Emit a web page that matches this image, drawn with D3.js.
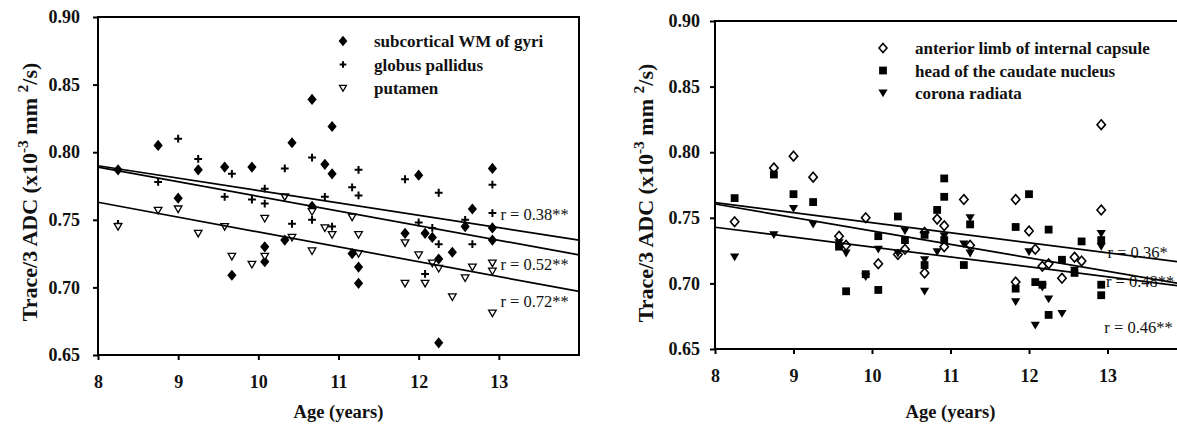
<!DOCTYPE html>
<html>
<head>
<meta charset="utf-8">
<script src="https://cdn.jsdelivr.net/npm/d3@7"></script>
<style>
  body { margin: 0; background: #fff; }
  svg { display: block; }
  text { font-family: "Liberation Serif", "Times New Roman", serif; fill: #111; }
</style>
</head>
<body>
<svg id="chart" width="1177" height="424"></svg>
<script>
// ---- axis ticks ----
const ageTicks = [8, 9, 10, 11, 12, 13];
const adcTicks = [0.65, 0.70, 0.75, 0.80, 0.85, 0.90];
const ageDomain = [8, 14];
const adcDomain = [0.65, 0.90];

// ---- left panel: [age (years), Trace/3 ADC] ----
const wmGyri = [
  [8.25,0.787],[8.75,0.805],[9.0,0.766],[9.25,0.787],[9.58,0.789],[9.67,0.709],[9.92,0.789],
  [10.08,0.730],[10.08,0.719],[10.33,0.735],[10.42,0.807],[10.67,0.839],[10.67,0.760],[10.83,0.791],
  [10.92,0.819],[10.92,0.784],[11.17,0.725],[11.25,0.715],[11.25,0.703],[11.83,0.740],[12.0,0.783],
  [12.08,0.740],[12.17,0.737],[12.25,0.721],[12.25,0.659],[12.42,0.726],[12.58,0.745],[12.67,0.758],
  [12.92,0.788],[12.92,0.744],[12.92,0.735]
];
const globusPallidus = [
  [8.25,0.747],[8.75,0.778],[9.0,0.810],[9.25,0.795],[9.58,0.767],[9.67,0.784],[9.92,0.765],
  [10.08,0.773],[10.08,0.762],[10.33,0.788],[10.42,0.747],[10.67,0.796],[10.67,0.750],[10.83,0.767],
  [10.92,0.745],[11.17,0.774],[11.25,0.787],[11.25,0.768],[11.83,0.780],[12.0,0.748],[12.08,0.710],
  [12.17,0.744],[12.25,0.770],[12.25,0.732],[12.58,0.750],[12.67,0.732],[12.92,0.776],[12.92,0.755]
];
const putamen = [
  [8.25,0.745],[8.75,0.757],[9.0,0.758],[9.25,0.740],[9.58,0.745],[9.67,0.723],[9.92,0.717],
  [10.08,0.751],[10.08,0.723],[10.33,0.767],[10.42,0.737],[10.67,0.756],[10.67,0.727],[10.83,0.744],
  [10.92,0.739],[11.17,0.752],[11.25,0.739],[11.25,0.725],[11.83,0.733],[11.83,0.703],[12.0,0.724],
  [12.08,0.703],[12.17,0.718],[12.25,0.714],[12.42,0.693],[12.58,0.707],[12.67,0.715],[12.92,0.718],
  [12.92,0.712],[12.92,0.681]
];
// regression fits: value at age 8 and at age 14
const fitsLeft = [
  { r: "r = 0.38**", at8: 0.790, at14: 0.735 },
  { r: "r = 0.52**", at8: 0.789, at14: 0.724 },
  { r: "r = 0.72**", at8: 0.763, at14: 0.697 }
];

// ---- right panel ----
const anteriorLimb = [
  [8.25,0.747],[8.75,0.788],[9.0,0.797],[9.25,0.781],[9.58,0.736],[9.67,0.729],[9.92,0.750],
  [10.08,0.715],[10.33,0.722],[10.42,0.726],[10.67,0.739],[10.67,0.708],[10.83,0.749],[10.92,0.744],
  [10.92,0.728],[11.17,0.764],[11.25,0.729],[11.83,0.764],[11.83,0.701],[12.0,0.740],[12.08,0.726],
  [12.17,0.713],[12.25,0.715],[12.42,0.704],[12.58,0.720],[12.67,0.717],[12.92,0.821],[12.92,0.756]
];
const caudateHead = [
  [8.25,0.765],[8.75,0.783],[9.0,0.768],[9.25,0.762],[9.58,0.728],[9.67,0.694],[9.92,0.707],
  [10.08,0.736],[10.08,0.695],[10.33,0.751],[10.42,0.733],[10.67,0.737],[10.67,0.714],[10.83,0.756],
  [10.92,0.780],[10.92,0.766],[10.92,0.733],[11.17,0.714],[11.25,0.745],[11.83,0.743],[11.83,0.696],
  [12.0,0.768],[12.08,0.701],[12.17,0.699],[12.25,0.741],[12.25,0.676],[12.42,0.718],[12.58,0.708],
  [12.67,0.732],[12.92,0.733],[12.92,0.699],[12.92,0.691]
];
const coronaRadiata = [
  [8.25,0.720],[8.75,0.737],[9.0,0.757],[9.25,0.745],[9.58,0.731],[9.67,0.723],[9.92,0.705],
  [10.08,0.726],[10.33,0.723],[10.42,0.740],[10.67,0.718],[10.67,0.694],[10.83,0.724],[10.92,0.736],
  [11.17,0.730],[11.25,0.750],[11.25,0.723],[11.83,0.686],[12.0,0.724],[12.08,0.668],[12.17,0.697],
  [12.25,0.688],[12.42,0.677],[12.58,0.710],[12.92,0.738],[12.92,0.728]
];
const fitsRight = [
  { r: "r = 0.36*",  at8: 0.7615, at14: 0.7157 },
  { r: "r = 0.48**", at8: 0.7605, at14: 0.6990 },
  { r: "r = 0.46**", at8: 0.7428, at14: 0.6975 }
];

const SERIF = '"Liberation Serif", "Times New Roman", serif';
const svg = d3.select("#chart");

// marker shapes centred on 0,0
function drawMarker(g, kind, s) {
  s = s || 1;
  if (kind === "diamondFilled") {
    g.append("path").attr("d", `M0,${-5.6*s}L${4.6*s},0L0,${5.6*s}L${-4.6*s},0Z`).attr("fill", "#000");
  } else if (kind === "plus") {
    const w = 3.9 * s;
    g.append("path").attr("d", `M${-w},0H${w}M0,${-w}V${w}`).attr("stroke", "#000").attr("stroke-width", 2).attr("fill", "none");
  } else if (kind === "triOpen") {
    g.append("path").attr("d", `M${-3.8*s},${-3*s}L${3.8*s},${-3*s}L0,${3.6*s}Z`)
      .attr("fill", "#fff").attr("stroke", "#000").attr("stroke-width", 1.3);
  } else if (kind === "diamondOpen") {
    g.append("path").attr("d", `M0,${-4.8*s}L${4.2*s},0L0,${4.8*s}L${-4.2*s},0Z`)
      .attr("fill", "#fff").attr("stroke", "#000").attr("stroke-width", 1.6);
  } else if (kind === "square") {
    g.append("rect").attr("x", -3.9*s).attr("y", -3.9*s).attr("width", 7.8*s).attr("height", 7.8*s).attr("fill", "#000");
  } else if (kind === "triFilled") {
    g.append("path").attr("d", `M${-4.6*s},${-3.6*s}L${4.6*s},${-3.6*s}L0,${4.2*s}Z`).attr("fill", "#000");
  }
}

function drawPanel(p) {
  const x = d3.scaleLinear().domain(ageDomain).range([p.left, p.right]);
  const y = d3.scaleLinear().domain(adcDomain).range([p.bottom, p.top]);
  const g = svg.append("g");

  // y axis
  const ya = g.append("g").attr("transform", `translate(${p.left},0)`)
    .call(d3.axisLeft(y).tickValues(adcTicks).tickFormat(d3.format(".2f"))
      .tickSize(5).tickSizeOuter(0).tickPadding(p.yPad));
  ya.select(".domain").remove();
  ya.selectAll(".tick line").attr("stroke", "#000").attr("stroke-width", 2);
  ya.selectAll(".tick text").style("font-size", "18px").style("font-weight", "bold").attr("fill", "#111");

  // x axis
  const xa = g.append("g").attr("transform", `translate(0,${p.bottom})`)
    .call(d3.axisBottom(x).tickValues(ageTicks).tickFormat(d3.format("d"))
      .tickSize(5).tickSizeOuter(0).tickPadding(15));
  xa.select(".domain").remove();
  xa.selectAll(".tick line").attr("stroke", "#000").attr("stroke-width", 2);
  xa.selectAll(".tick text").style("font-size", "18px").style("font-weight", "bold").attr("fill", "#111");

  // frame
  g.append("rect").attr("x", x(ageDomain[0])).attr("y", y(adcDomain[1]))
    .attr("width", x(ageDomain[1]) - x(ageDomain[0])).attr("height", y(adcDomain[0]) - y(adcDomain[1]))
    .attr("fill", "none").attr("stroke", "#000").attr("stroke-width", 2);

  // points
  p.series.forEach(s => {
    s.data.forEach(d => {
      const m = g.append("g").attr("transform", `translate(${x(d[0])},${y(d[1])})`);
      drawMarker(m, s.marker, 1);
    });
  });

  // regression lines
  const line = d3.line().x(d => x(d[0])).y(d => y(d[1]));
  p.fits.forEach((f, i) => {
    g.append("path").attr("d", line([[ageDomain[0], f.at8], [ageDomain[1], f.at14]]))
      .attr("fill", "none").attr("stroke", "#000").attr("stroke-width", 1.7);
    const lp = p.fitLabels[i];
    g.append("text").attr("x", x(lp[0])).attr("y", y(lp[1]))
      .style("font-size", "16.5px").text(f.r);
  });

  // legend
  p.series.forEach((s, i) => {
    const ly = p.legendY + i * p.legendStep;
    const m = g.append("g").attr("transform", `translate(${p.legendMarkerX},${ly})`);
    drawMarker(m, s.marker, s.legendScale);
    g.append("text").attr("x", p.legendTextX).attr("y", ly + 6)
      .style("font-size", "17px").style("font-weight", "bold").text(s.name);
  });

  // axis titles
  g.append("text").attr("x", (p.left + p.right) / 2).attr("y", 418)
    .attr("text-anchor", "middle").style("font-size", "18.5px").style("font-weight", "bold")
    .text("Age (years)");

  const yt = g.append("text").attr("transform", `translate(${p.yTitleX},${p.yTitleY}) rotate(-90)`)
    .attr("text-anchor", "middle").style("font-size", "22px").style("font-weight", "bold");
  yt.append("tspan").text("Trace/3 ADC (x10");
  yt.append("tspan").attr("dy", -9).style("font-size", "15.5px").text("-3");
  yt.append("tspan").attr("dy", 9).text(" mm ");
  yt.append("tspan").attr("dy", -9).style("font-size", "15.5px").text("2");
  yt.append("tspan").attr("dy", 9).text("/s)");
}

drawPanel({
  left: 98, right: 579, top: 17, bottom: 355, yPad: 13,
  series: [
    { name: "subcortical WM of gyri", data: wmGyri, marker: "diamondFilled", legendScale: 0.95 },
    { name: "globus pallidus", data: globusPallidus, marker: "plus", legendScale: 0.85 },
    { name: "putamen", data: putamen, marker: "triOpen", legendScale: 0.9 }
  ],
  fits: fitsLeft,
  fitLabels: [[13.02, 0.7496], [13.02, 0.7126], [13.02, 0.6852]],
  legendMarkerX: 343, legendTextX: 374, legendY: 41, legendStep: 23.5,
  yTitleX: 37, yTitleY: 192
});

drawPanel({
  left: 715, right: 1186, top: 21, bottom: 349, yPad: 10,
  series: [
    { name: "anterior limb of internal capsule", data: anteriorLimb, marker: "diamondOpen", legendScale: 0.95 },
    { name: "head of the caudate nucleus", data: caudateHead, marker: "square", legendScale: 1 },
    { name: "corona radiata", data: coronaRadiata, marker: "triFilled", legendScale: 1 }
  ],
  fits: fitsRight,
  fitLabels: [[13.0, 0.7195], [12.98, 0.6974], [12.96, 0.6625]],
  legendMarkerX: 883, legendTextX: 915, legendY: 48, legendStep: 22.5,
  yTitleX: 653, yTitleY: 193
});

// one serif family for every label
svg.selectAll("text").style("font-family", SERIF);
</script>
</body>
</html>
